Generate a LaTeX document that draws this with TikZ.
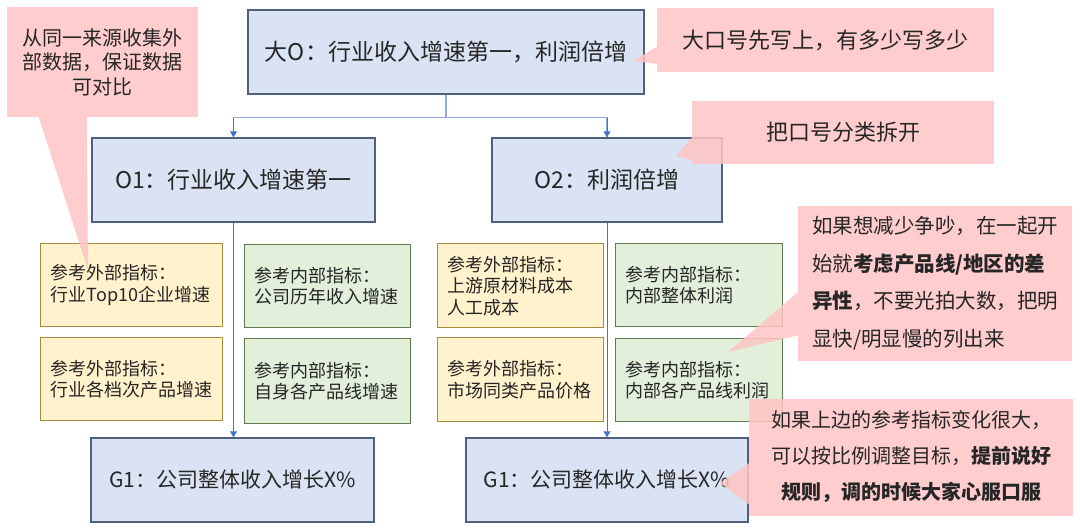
\documentclass[tikz,border=0pt]{standalone}
\usepackage{fontspec}
\newfontfamily\cjk{Noto Sans CJK SC}
\usetikzlibrary{arrows.meta,calc,positioning}

\definecolor{goalfill}{HTML}{DAE3F3}
\definecolor{goaledge}{HTML}{4F607F}
\definecolor{extfill}{HTML}{FFF2CC}
\definecolor{extedge}{HTML}{A8893C}
\definecolor{intfill}{HTML}{E2EFDA}
\definecolor{intedge}{HTML}{5F7A4B}
\definecolor{notefill}{HTML}{FFC4C4}
\definecolor{forkline}{HTML}{8FAADC}
\definecolor{linkline}{HTML}{4472C4}
\definecolor{ink}{HTML}{262626}

\tikzset{
  goal/.style={draw=goaledge, fill=goalfill, line width=1.4pt, text=ink,
    minimum height=84pt, inner sep=0pt, font=\cjk\fontsize{23}{27}\selectfont},
  refbox/.style={line width=1.4pt, text=ink, anchor=north west, align=left,
    inner xsep=10pt, inner ysep=0pt, font=\cjk\fontsize{18}{21.5}\selectfont},
  extbox/.style={refbox, draw=extedge, fill=extfill},
  intbox/.style={refbox, draw=intedge, fill=intfill},
  note/.style={fill=notefill, fill opacity=0.85, text opacity=1, text=ink,
    inner sep=0pt, font=\cjk\fontsize{20}{24.5}\selectfont},
  tail/.style={fill=notefill, fill opacity=0.85},
  fork/.style={draw=forkline, line width=1.5pt},
  link/.style={draw=linkline, line width=1pt,
    -{Triangle[width=7pt,length=6pt,color=linkline]}}
}

\begin{document}
\begin{tikzpicture}[x=1pt,y=-1pt]

    % Page frame, same size as the reference
    \useasboundingbox (0,0) rectangle (1080,528);

    % Goal boxes
    \node[goal, minimum width=396pt] (bigO) at (446,52) {大O：行业收入增速第一，利润倍增};
    \node[goal, minimum width=283pt] (oA) at (233.5,180) {O1：行业收入增速第一};
    \node[goal, minimum width=230pt] (oB) at (607,180) {O2：利润倍增};
    \node[goal, minimum width=283pt, font=\cjk\fontsize{21}{25}\selectfont] (gA) at (232.5,480) {G1：公司整体收入增长X\%};
    \node[goal, minimum width=282pt, font=\cjk\fontsize{21}{25}\selectfont] (gB) at (607,480) {G1：公司整体收入增长X\%};

    % Reference indicators under O1
    \node[extbox, text width=162pt, minimum height=83pt] (extA1) at (40,243) {参考外部指标：\\行业Top10企业增速};
    \node[extbox, text width=162pt, minimum height=83pt] (extA2) at (40,337) {参考外部指标：\\行业各档次产品增速};
    \node[intbox, text width=146pt, minimum height=83pt] (intA1) at (244,244) {参考内部指标：\\公司历年收入增速};
    \node[intbox, text width=146pt, minimum height=85pt] (intA2) at (244,338) {参考内部指标：\\自身各产品线增速};

    % Reference indicators under O2
    \node[extbox, text width=146pt, minimum height=84pt] (extB1) at (437,243) {参考外部指标：\\上游原材料成本\\人工成本};
    \node[extbox, text width=146pt, minimum height=84pt] (extB2) at (437,337) {参考外部指标：\\市场同类产品价格};
    \node[intbox, text width=147pt, minimum height=83pt] (intB1) at (615,243) {参考内部指标：\\内部整体利润};
    \node[intbox, text width=147pt, minimum height=83pt] (intB2) at (615,338) {参考内部指标：\\内部各产品线利润};

    % Connectors
    \draw[fork] (bigO.south) -- ++(0,23) coordinate (split);
    \draw[fork] (split) -| (oA.north);
    \draw[fork] (split) -| (oB.north);
    \path[link] (split -| oA.north) -- (oA.north);
    \path[link] (split -| oB.north) -- (oB.north);
    \draw[link] (oA.south) -- (oA.south |- gA.north);
    \draw[link] (oB.south) -- (gB.north);

    % Notes
    \node[note, minimum width=191pt, minimum height=110pt, align=center] (noteTop) at (102.5,62)
        {从同一来源收集外\\部数据，保证数据\\可对比};
    \node[note, minimum width=337pt, minimum height=64pt, font=\cjk\fontsize{22}{26}\selectfont] (noteBig) at (825.5,40)
        {大口号先写上，有多少写多少};
    \node[note, minimum width=302pt, minimum height=63pt, font=\cjk\fontsize{22}{26}\selectfont] (noteSplit) at (843,132.5)
        {把口号分类拆开};
    \node[note, minimum width=274pt, minimum height=155pt, align=left, font=\cjk\fontsize{20.5}{37.5}\selectfont] (noteDiff) at (935,283)
        {如果想减少争吵，在一起开\\始就{\bfseries 考虑产品线/地区的差}\\{\bfseries 异性}，不要光拍大数，把明\\显快/明显慢的列出来};
    \node[note, minimum width=324pt, minimum height=117pt, align=center, font=\cjk\fontsize{20}{36}\selectfont] (noteAdjust) at (911,457)
        {如果上边的参考指标变化很大，\\可以按比例调整目标，{\bfseries 提前说好}\\{\bfseries 规则，调的时候大家心服口服}};

    % Note pointers
    \coordinate (tipTop) at (88,270);
    \coordinate (tipBig) at (633,61);
    \coordinate (tipSplit) at (676,156);
    \coordinate (tipDiff) at (728,352);
    \coordinate (tipAdjust) at (720,483);
    \fill[tail] ($(noteTop.south west)+(32,0)$) -- (tipTop) -- ($(noteTop.south west)+(80,0)$) -- cycle;
    \fill[tail] ($(noteBig.north west)+(0,39)$) -- (tipBig) -- ($(noteBig.north west)+(0,56)$) -- cycle;
    \fill[tail] ($(noteSplit.north west)+(0,37)$) -- (tipSplit) -- ($(noteSplit.north west)+(0,59)$) -- cycle;
    \fill[tail] ($(noteDiff.north west)+(0,87)$) -- (tipDiff) -- ($(noteDiff.north west)+(0,130)$) -- cycle;
    \fill[tail] ($(noteAdjust.north west)+(0,65)$) -- (tipAdjust) -- ($(noteAdjust.north west)+(0,106)$) -- cycle;

\end{tikzpicture}
\end{document}
